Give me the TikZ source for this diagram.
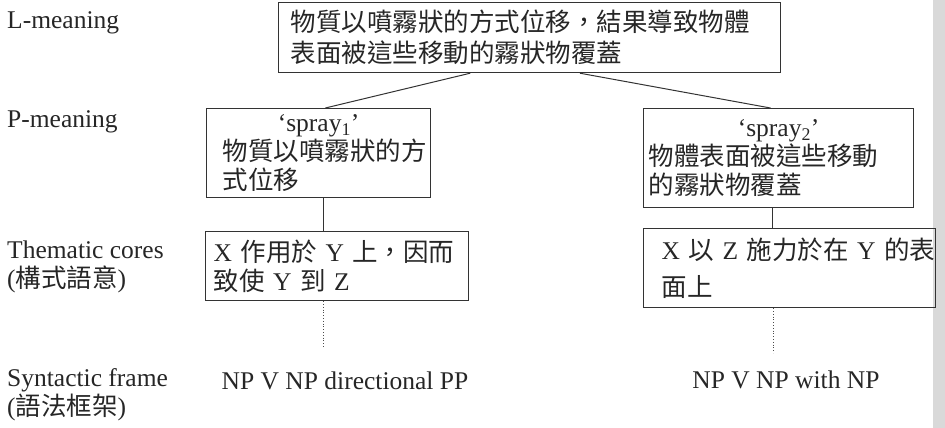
\documentclass[tikz,border=0pt]{standalone}
\usepackage{fontspec}
\setmainfont{Liberation Serif}
\newfontfamily\cjk{Noto Sans CJK TC}
\newcommand{\zh}[1]{{\cjk #1}}
\usetikzlibrary{calc}
\tikzset{
  base/.style={font=\fontsize{25.5}{29}\selectfont, text=black!85},
  box/.style={base, draw=black!80, line width=1.2pt, inner ysep=0pt, align=left, anchor=north west},
  lab/.style={base, anchor=west, align=left, inner sep=0pt},
  txt/.style={base, inner sep=0pt},
  conn/.style={draw=black!80, line width=1pt},
  dots/.style={draw=black!70, line width=0.8pt, dotted},
}
\begin{document}
\begin{tikzpicture}[x=1pt,y=1pt]
\useasboundingbox (0,0) rectangle (945,-428);
\fill[black!15] (933,0) rectangle (945,-428);

% left column labels
\node[lab] (lL) at (7,-23) {L-meaning};
\node[lab] (lP) at (7,-122) {P-meaning};
\node[lab] (lT) at (7,-267) {Thematic cores\\(\zh{構式語意})};
\node[lab] (lS) at (7,-395) {Syntactic frame\\(\zh{語法框架})};

% L-meaning box
\node[box, inner xsep=12pt, text width=478pt, minimum height=70pt] (L) at (278,-2)
  {\zh{物質以噴霧狀的方式位移，結果導致物體}\\[2pt]\zh{表面被這些移動的霧狀物覆蓋}};

% P-meaning boxes
\node[box, inner xsep=10pt, text width=204pt, minimum height=89pt] (P1) at (206,-108)
  {\makebox[204pt]{`spray\textsubscript{1}'}\\\hspace*{6pt}\zh{物質以噴霧狀的方}\\\hspace*{6pt}\zh{式位移}};
\node[box, inner xsep=5pt, text width=260pt, minimum height=99pt] (P2) at (643,-108)
  {\makebox[260pt]{`spray\textsubscript{2}'}\\\zh{物體表面被這些移動}\\\zh{的霧狀物覆蓋}};

% Thematic core boxes
\node[box, inner xsep=8pt, text width=247pt, minimum height=69pt] (T1) at (205,-231)
  {\mbox{X \zh{作用於} Y \zh{上，因而}}\\\mbox{\zh{致使} Y \zh{到} Z}};
\node[box, inner xsep=18pt, text width=256pt, minimum height=79pt] (T2) at (643,-228)
  {\mbox{X \zh{以} Z \zh{施力於在} Y \zh{的表}}\\[8pt]\mbox{\zh{面上}}};

% syntactic frames
\node[txt] (f1) at (345,-381) {NP V NP directional PP};
\node[txt] (f2) at (786,-380) {NP V NP with NP};

% connectors
\draw[conn] ($(L.south west)!0.382!(L.south east)$) -- ($(P1.north west)!0.53!(P1.north east)$);
\draw[conn] ($(L.south west)!0.60!(L.south east)$) -- ($(P2.north west)!0.47!(P2.north east)$);
\coordinate (v1) at (323,0);
\coordinate (v2) at (772,0);
\draw[conn] (P1.south -| v1) -- (T1.north -| v1);
\draw[conn] (P2.south -| v2) -- (T2.north -| v2);
\coordinate (d1) at (323,-348);
\coordinate (d2) at (773,-353);
\draw[dots] (T1.south -| d1) -- (d1);
\draw[dots] (T2.south -| d2) -- (d2);
\end{tikzpicture}
\end{document}
